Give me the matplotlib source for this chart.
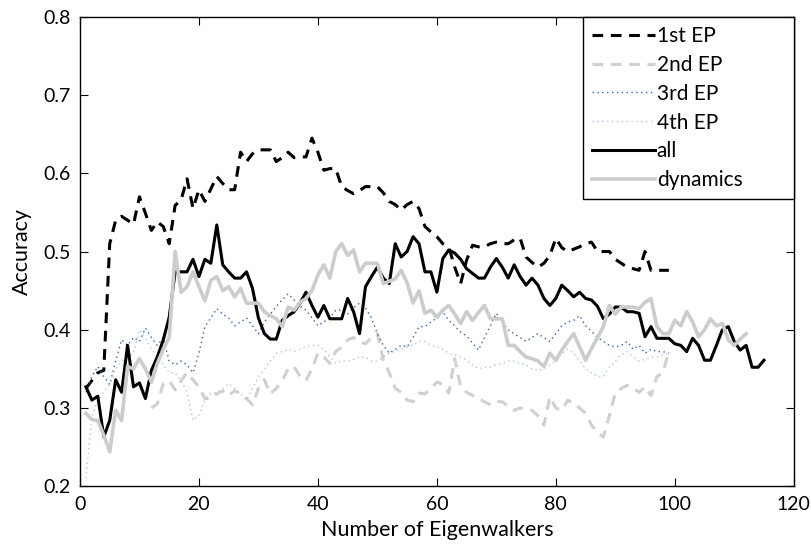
import numpy as np
import matplotlib
matplotlib.use("Agg")
import matplotlib.pyplot as plt

plt.rcParams['font.family'] = ['Lato', 'DejaVu Sans']

# accuracy per number of eigenwalkers
ep1 = [0.325, 0.335, 0.345, 0.348, 0.51, 0.54, 0.545, 0.54, 0.535, 0.57,
       0.549, 0.527, 0.538, 0.532, 0.51, 0.559, 0.566, 0.593, 0.555, 0.579,
       0.564, 0.58, 0.596, 0.587, 0.579, 0.579, 0.627, 0.615, 0.625, 0.63,
       0.63, 0.63, 0.615, 0.62, 0.627, 0.62, 0.621, 0.621, 0.645, 0.627,
       0.604, 0.606, 0.606, 0.583, 0.578, 0.574, 0.578, 0.583, 0.583, 0.583,
       0.575, 0.564, 0.56, 0.553, 0.56, 0.564, 0.555, 0.532, 0.525, 0.519,
       0.51, 0.506, 0.48, 0.459, 0.489, 0.508, 0.506, 0.506, 0.51, 0.512,
       0.51, 0.51, 0.515, 0.517, 0.493, 0.486, 0.48, 0.485, 0.495, 0.517,
       0.505, 0.5, 0.503, 0.506, 0.51, 0.512, 0.5, 0.5, 0.5, 0.49,
       0.485, 0.48, 0.478, 0.476, 0.5, 0.476, 0.476, 0.476, 0.476]

ep2_start = 12
ep2 = [0.30, 0.305, 0.331, 0.335, 0.323, 0.335, 0.345, 0.336, 0.327,
       0.312, 0.312, 0.318, 0.322, 0.316, 0.322, 0.318, 0.312, 0.304, 0.325,
       0.336, 0.318, 0.325, 0.335, 0.35, 0.353, 0.34, 0.335, 0.35, 0.37,
       0.365, 0.357, 0.372, 0.378, 0.387, 0.39, 0.385, 0.382, 0.39, 0.395,
       0.361, 0.345, 0.325, 0.32, 0.31, 0.308, 0.319, 0.318, 0.325, 0.333,
       0.33, 0.319, 0.363, 0.327, 0.32, 0.316, 0.312, 0.308, 0.304, 0.308,
       0.308, 0.302, 0.297, 0.3, 0.298, 0.297, 0.29, 0.278, 0.314, 0.3,
       0.297, 0.31, 0.305, 0.3, 0.293, 0.278, 0.268, 0.263, 0.29, 0.319,
       0.325, 0.329, 0.325, 0.32, 0.327, 0.316, 0.34, 0.345, 0.372]

ep3 = [0.32, 0.34, 0.353, 0.34, 0.33, 0.36, 0.387, 0.38, 0.39, 0.385,
       0.402, 0.39, 0.38, 0.39, 0.36, 0.355, 0.36, 0.355, 0.345, 0.37,
       0.404, 0.415, 0.427, 0.42, 0.415, 0.405, 0.41, 0.415, 0.405, 0.395,
       0.41, 0.42, 0.43, 0.438, 0.446, 0.438, 0.43, 0.425, 0.415, 0.405,
       0.41, 0.415, 0.425, 0.425, 0.42, 0.428, 0.434, 0.428, 0.415, 0.395,
       0.38, 0.37, 0.375, 0.38, 0.378, 0.39, 0.404, 0.404, 0.41, 0.415,
       0.423, 0.412, 0.405, 0.397, 0.392, 0.383, 0.374, 0.39, 0.405, 0.421,
       0.41, 0.4, 0.395, 0.39, 0.385, 0.39, 0.395, 0.39, 0.385, 0.395,
       0.405, 0.41, 0.412, 0.418, 0.405, 0.398, 0.39, 0.385, 0.38, 0.378,
       0.38, 0.385, 0.375, 0.38, 0.37, 0.375, 0.372, 0.372, 0.37]

ep4 = [0.21, 0.29, 0.31, 0.32, 0.331, 0.35, 0.36, 0.365, 0.37, 0.4,
       0.39, 0.375, 0.365, 0.355, 0.345, 0.345, 0.335, 0.32, 0.284, 0.29,
       0.31, 0.319, 0.32, 0.325, 0.331, 0.325, 0.318, 0.31, 0.325, 0.34,
       0.35, 0.36, 0.37, 0.372, 0.375, 0.372, 0.375, 0.378, 0.38, 0.38,
       0.375, 0.365, 0.357, 0.36, 0.36, 0.362, 0.365, 0.365, 0.36, 0.36,
       0.365, 0.37, 0.372, 0.375, 0.378, 0.38, 0.385, 0.385, 0.38, 0.378,
       0.375, 0.37, 0.368, 0.365, 0.361, 0.355, 0.35, 0.352, 0.352, 0.355,
       0.357, 0.36, 0.36, 0.357, 0.355, 0.35, 0.348, 0.35, 0.355, 0.36,
       0.37, 0.375, 0.37, 0.36, 0.35, 0.345, 0.34, 0.34, 0.352, 0.36,
       0.368, 0.372, 0.365, 0.36, 0.362, 0.365, 0.365, 0.368, 0.37]

acc_all = [0.327, 0.31, 0.315, 0.263, 0.284, 0.336, 0.32, 0.38, 0.327, 0.332,
           0.312, 0.348, 0.365, 0.387, 0.416, 0.474, 0.474, 0.474, 0.49, 0.468,
           0.49, 0.485, 0.534, 0.483, 0.474, 0.466, 0.466, 0.474, 0.453, 0.415,
           0.395, 0.388, 0.388, 0.412, 0.418, 0.423, 0.434, 0.448, 0.431, 0.416,
           0.431, 0.414, 0.414, 0.414, 0.44, 0.423, 0.395, 0.455, 0.468, 0.48,
           0.466, 0.459, 0.51, 0.493, 0.5, 0.519, 0.51, 0.474, 0.474, 0.448,
           0.491, 0.502, 0.498, 0.49, 0.478, 0.472, 0.466, 0.466, 0.48, 0.491,
           0.48, 0.466, 0.483, 0.468, 0.457, 0.466, 0.457, 0.44, 0.431, 0.44,
           0.457, 0.45, 0.442, 0.448, 0.44, 0.438, 0.43, 0.414, 0.42, 0.429,
           0.429, 0.423, 0.423, 0.421, 0.391, 0.404, 0.389, 0.389, 0.389, 0.382,
           0.38, 0.372, 0.389, 0.38, 0.361, 0.361, 0.38, 0.40, 0.404, 0.385,
           0.374, 0.38, 0.352, 0.352, 0.361]

dynamics = [0.293, 0.285, 0.284, 0.265, 0.244, 0.297, 0.284, 0.353, 0.35, 0.363,
            0.35, 0.333, 0.357, 0.375, 0.39, 0.5, 0.448, 0.455, 0.474, 0.455,
            0.437, 0.463, 0.468, 0.45, 0.455, 0.442, 0.453, 0.434, 0.434, 0.434,
            0.423, 0.418, 0.414, 0.404, 0.429, 0.425, 0.435, 0.44, 0.45, 0.47,
            0.483, 0.466, 0.5, 0.51, 0.495, 0.502, 0.474, 0.485, 0.485, 0.485,
            0.459, 0.462, 0.465, 0.476, 0.46, 0.434, 0.45, 0.421, 0.425, 0.416,
            0.425, 0.431, 0.42, 0.408, 0.423, 0.412, 0.422, 0.431, 0.414, 0.414,
            0.414, 0.38, 0.38, 0.372, 0.365, 0.363, 0.36, 0.353, 0.37, 0.361,
            0.374, 0.385, 0.395, 0.378, 0.361, 0.376, 0.39, 0.404, 0.431, 0.42,
            0.429, 0.429, 0.429, 0.427, 0.435, 0.44, 0.404, 0.395, 0.395, 0.412,
            0.405, 0.423, 0.41, 0.391, 0.40, 0.414, 0.405, 0.408, 0.387, 0.38,
            0.388, 0.395]

labels = ['1st EP', '2nd EP', '3rd EP', '4th EP', 'all', 'dynamics']

fig = plt.figure(figsize=(8.12, 5.45), dpi=100)
ax = fig.add_axes([0.0985, 0.108, 0.879, 0.861])

dash = (0, (3.5, 2.5))
dot = (0, (1, 2.5))
ax.plot(np.arange(1, len(ep1) + 1), ep1, color='black', ls=dash, lw=2.2, label=labels[0])
ax.plot(np.arange(ep2_start, ep2_start + len(ep2)), ep2, color='#d0d0d0', ls=dash, lw=2.2, label=labels[1])
ax.plot(np.arange(1, len(ep3) + 1), ep3, color='#2e62b0', ls=dot, lw=1.0, label=labels[2])
ax.plot(np.arange(1, len(ep4) + 1), ep4, color='#a9c7ec', ls=dot, lw=1.0, label=labels[3])
ax.plot(np.arange(1, len(acc_all) + 1), acc_all, color='black', lw=2.2, label=labels[4])
ax.plot(np.arange(1, len(dynamics) + 1), dynamics, color='#cccccc', lw=2.6, label=labels[5])

ax.set_xlim(0, 120)
ax.set_ylim(0.2, 0.8)
ax.set_xticks(range(0, 121, 20))
ax.set_yticks(np.arange(0.2, 0.81, 0.1))
ax.set_yticklabels(['0.2', '0.3', '0.4', '0.5', '0.6', '0.7', '0.8'])
ax.tick_params(direction='in', length=6, width=0.8, top=True, right=True, labelsize=14, pad=7)
for s in ax.spines.values():
    s.set_linewidth(1.0)

ax.set_xlabel('Number of Eigenwalkers', fontsize=15.5, labelpad=5)
ax.set_ylabel('Accuracy', fontsize=15.5, labelpad=8)

# MATLAB style legend box, fixed width with empty space on the right
leg = ax.legend(loc='upper right', bbox_to_anchor=(0.7045, 0.6, 0.2955, 0.4), mode='expand',
                borderaxespad=0, fontsize=15, handlelength=3.0, handletextpad=0.1,
                labelspacing=0.42, borderpad=0.45, fancybox=False)
leg.get_frame().set_edgecolor('black')
leg.get_frame().set_linewidth(1.0)
leg.get_frame().set_alpha(1)

fig.savefig('out.png', dpi=100)
